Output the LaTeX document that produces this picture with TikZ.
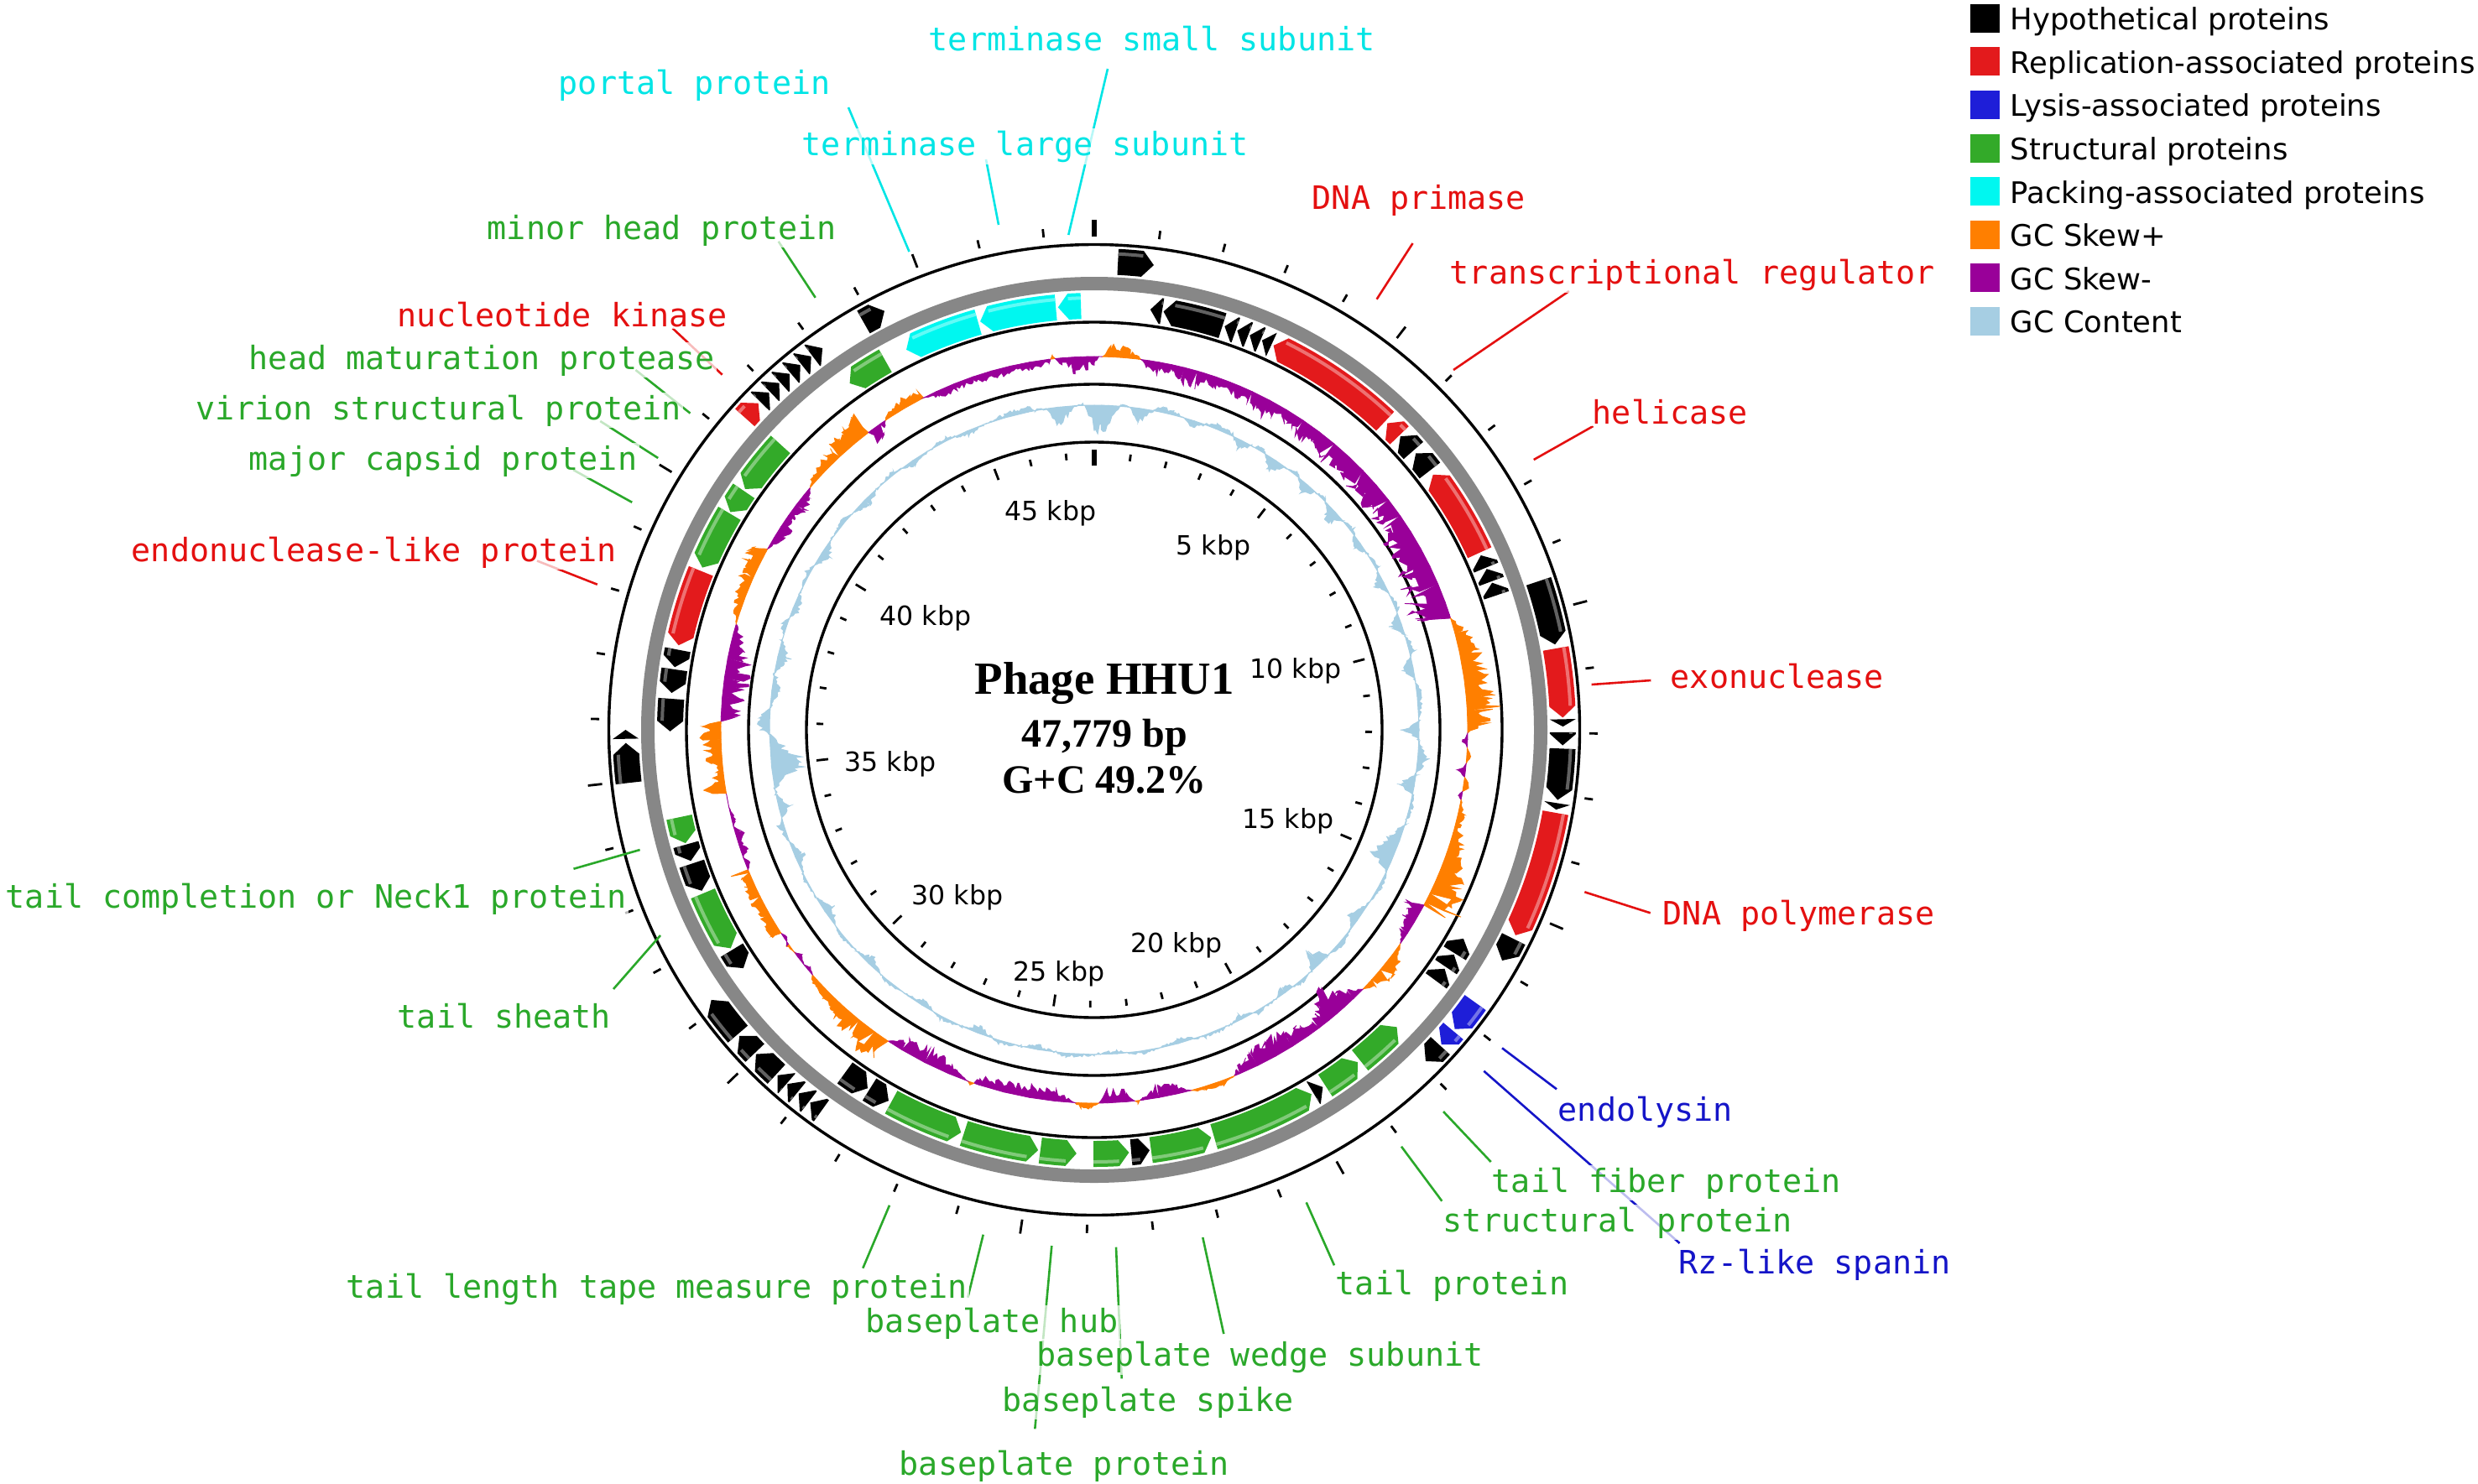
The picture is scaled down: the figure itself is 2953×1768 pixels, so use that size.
\documentclass[tikz,border=0pt]{standalone}
\usepackage{fontspec}
\setmainfont{DejaVu Sans}
\newfontfamily\monofont{DejaVu Sans Mono}
\newfontfamily\titlefont{Liberation Serif}
\definecolor{gRed}{HTML}{E31A1C}
\definecolor{gBlue}{HTML}{1E1ED8}
\definecolor{gGreen}{HTML}{33AA29}
\definecolor{gCyan}{HTML}{00F7F0}
\definecolor{skP}{HTML}{FF7F00}
\definecolor{skM}{HTML}{990099}
\definecolor{gcC}{HTML}{A6CEE3}
\definecolor{ringGray}{HTML}{878787}
\definecolor{tCyan}{HTML}{00E5E5}
\definecolor{tRed}{HTML}{E41010}
\definecolor{tGreen}{HTML}{2AA82A}
\definecolor{tBlue}{HTML}{1515C8}
% outer (clockwise) gene, tip at #2
\newcommand\og[3]{%
 \pgfmathsetmacro\gA{#1-90}%
 \pgfmathsetmacro\gB{#2-90}%
 \pgfmathsetmacro\gT{max(#1,#2-1.4)-90}%
 \pgfmathtruncatemacro\gTri{((#2)-(#1))<=1.45}%
 \ifnum\gTri=1
  \fill[#3] (\gA:543) -- (\gB:558.5) -- (\gA:574) -- cycle;
 \else
  \fill[#3] (\gA:543) arc[start angle=\gA,end angle=\gT,radius=543] -- (\gB:558.5) -- (\gT:574) arc[start angle=\gT,end angle=\gA,radius=574] -- cycle;
  \fill[#3!62!white] (\gA:566) arc[start angle=\gA,end angle=\gT,radius=566] -- (\gT:570) arc[start angle=\gT,end angle=\gA,radius=570] -- cycle;
 \fi}
% inner (counter-clockwise) gene, tip at #1
\newcommand\ig[3]{%
 \pgfmathsetmacro\gA{#1-90}%
 \pgfmathsetmacro\gB{#2-90}%
 \pgfmathsetmacro\gT{min(#2,#1+1.4)-90}%
 \pgfmathtruncatemacro\gTri{((#2)-(#1))<=1.45}%
 \ifnum\gTri=1
  \fill[#3] (\gB:490) -- (\gA:505.5) -- (\gB:521) -- cycle;
 \else
  \fill[#3] (\gB:490) arc[start angle=\gB,end angle=\gT,radius=490] -- (\gA:505.5) -- (\gT:521) arc[start angle=\gT,end angle=\gB,radius=521] -- cycle;
  \fill[#3!62!white] (\gB:513) arc[start angle=\gB,end angle=\gT,radius=513] -- (\gT:517) arc[start angle=\gT,end angle=\gB,radius=517] -- cycle;
 \fi}
\def\skewdata{0/-8, 0.7/0, 1.3/0, 2.5/14, 4/10, 5.5/9, 6.8/4, 7.2/0, 8.5/-8, 10/-12, 12/-6, 14/-14, 16/-20, 17/-10, 19/-12, 21/-8, 23/-14, 25/-10, 28/-16, 31/-12, 34/-18, 37/-14, 40/-20, 43/-16, 46/-22, 49/-18, 52/-24, 55/-20, 58/-26, 61/-28, 64/-32, 67/-30, 70/-34, 72/-28, 72.6/0, 75/12, 78/18, 82/20, 85/24, 87/28, 89/18, 90.5/0, 91.5/-6, 92.8/0, 94/5, 95.2/0, 96.3/-7, 97.3/0, 98.5/8, 99.5/0, 100.2/-4, 100.8/0, 103/7, 105/5, 106/8, 108/12, 110/15, 112/20, 114/26, 116/30, 117.5/35, 118/0, 118.6/-17, 121/-12, 123/-8, 125/0, 127/10, 130/15, 132/10, 134/0, 136/-12, 138/-22, 139.5/-28, 141/-18, 143/-10, 145/-14, 148/-18, 151/-20, 154/-16, 157/-8, 158/0, 160/5, 163/4, 165/0, 167/-8, 170/-12, 172.5/-3, 173/0, 173.3/3, 173.8/0, 175/-10, 178/-12, 179.3/0, 180.5/5, 182/6, 183/0, 186/-10, 190/-12, 194/-10, 198/-8, 198.8/0, 199.3/3, 199.8/0, 203/-10, 207/-15, 211/-12, 213.5/0, 214/22, 216/24, 219/18, 222/14, 225/10, 228/6, 229/0, 230/-4, 231/0, 232.5/-5, 233.5/0, 235/3, 236/-4, 237/0, 237.5/12, 240/10, 242/8, 243.5/14, 245/10, 247.5/16, 248/0, 249/-5, 250/0, 251/-7, 252.5/-4, 254/-8, 255/0, 256/-4, 258/0, 260.2/0, 260.8/22, 262/12, 263.5/8, 265/12, 267/18, 268.5/22, 270.5/18, 271.3/0, 272/-15, 275/-18, 278/-22, 281/-20, 283/-14, 285/-8, 286.5/0, 288/5, 291/10, 294/12, 296/14, 298.5/16, 299/0, 301/-8, 303/-12, 305/-6, 307/-14, 309/-8, 310.5/0, 311.5/5, 314/8, 317/13, 320/20, 322.5/22, 322.8/0, 323.5/-15, 325/-10, 326/0, 327/6, 329.5/10, 332.5/8, 332.8/0, 335/-6, 338/-8, 341/-5, 344/-9, 347/-6, 350/-8, 353/-4, 353.3/0, 353.6/3, 354/0, 355/-8, 357/-15, 359/-12, 360/-8}
\def\gcdata{0/-25, 1.3/-32, 2.5/-20, 4.6/0, 6/2, 8/-16, 10.5/0, 12/6, 14/4, 16/0, 18/-8, 20/0, 22/5, 25/2, 27/-10, 29/0, 31/4, 34/-14, 36/0, 38/5, 41/-12, 43/0, 45/3, 48/-15, 50/0, 52/4, 55/-8, 57/0, 60/3, 63/-10, 65/0, 68/4, 71/-12, 73/0, 76/6, 79/-14, 81/0, 84/5, 88.3/0, 90/-16, 91.7/0, 93/3, 95/10, 98/0, 100/-16, 101.5/0, 104/3, 107/0, 110/-14, 114/-22, 116/0, 119/4, 122/0, 126/-10, 128/0, 131/5, 134/0, 136/-20, 138/0, 141/4, 144/-8, 146/0, 150/3, 153/-6, 155/0, 160/3, 165/-5, 168/0, 172/3, 176/-4, 180/0, 185/3, 190/-5, 193/0, 197/4, 201/-8, 204/0, 208/4, 212/-6, 215/0, 220/3, 224/-8, 227/0, 231/4, 236/-10, 239/0, 243/3, 247/-10, 250/0, 253/6, 256/-12, 258.5/0, 259.7/0, 263.5/-40, 269.2/0, 270/8, 272/13, 274/0, 277/-10, 280/0, 283/-12, 286/0, 289/5, 292/-8, 295/0, 299/4, 303/-10, 306/0, 310/4, 315/-8, 318/0, 322/3, 326/-6, 329/0, 333/3, 337/-5, 340/0, 344/3, 348.3/7, 349.5/0, 351.4/0, 353.5/-22, 356.5/0, 358/3, 360/-25}
\tikzset{
 glab/.style={font=\monofont\fontsize{9.6pt}{11pt}\selectfont, anchor=base west, inner sep=0.6pt, xshift=-0.6pt, fill=white, fill opacity=0.72, text opacity=1},
 lline/.style={line width=0.65pt},
 kbp/.style={font=\fontsize{7.9pt}{9pt}\selectfont, anchor=center, inner sep=0pt},
 tickm/.style={line width=0.7pt},
 ring/.style={line width=0.85pt},
 legtxt/.style={font=\fontsize{8.85pt}{10pt}\selectfont, anchor=base west, inner sep=0pt},
 ttl/.style={font=\titlefont\bfseries\fontsize{12pt}{14pt}\selectfont, anchor=base, inner sep=0pt}
}
\begin{document}
\begin{tikzpicture}[x=0.25pt,y=-0.25pt]
\useasboundingbox[fill=white] (0,0) rectangle (2953,1768);
\begin{scope}[shift={(1304,870)}]
 % backbone rings
 \draw[ringGray, line width=4pt] (0,0) circle[radius=532];
 \draw[ring] (0,0) circle[radius=578.5];
 \draw[ring] (0,0) circle[radius=486];
 \draw[ring] (0,0) circle[radius=412];
 \draw[ring] (0,0) circle[radius=343];
 % outer genes (clockwise)
 \og{2.9}{7.3}{black}
 \og{71.5}{79.5}{black}
 \og{80}{88.5}{gRed}
 \og{88.7}{89.6}{black}
 \og{90.3}{91.9}{black}
 \og{92.3}{98.6}{black}
 \og{99}{99.8}{black}
 \og{100.2}{116}{gRed}
 \og{116.5}{119.5}{black}
 \og{125.6}{129.7}{gBlue}
 \og{130}{132.2}{gBlue}
 \og{132.4}{135}{black}
 \og{215.6}{217.3}{black}
 \og{217.5}{219.1}{black}
 \og{219.3}{220.9}{black}
 \og{221}{222.5}{black}
 \og{222.7}{226.2}{black}
 \og{226.4}{229.2}{black}
 \og{229.5}{234.8}{black}
 \og{263.5}{268.4}{black}
 \og{268.9}{270}{black}
 \og{311.8}{314.2}{gRed}
 \og{314.5}{316.05}{black}
 \og{316.2}{317.75}{black}
 \og{317.9}{319.45}{black}
 \og{319.6}{321.15}{black}
 \og{321.3}{322.85}{black}
 \og{323}{324.55}{black}
 \og{330.5}{333.4}{black}
 % inner genes (counter-clockwise)
 \ig{7.6}{9.2}{black}
 \ig{9.4}{17.6}{black}
 \ig{17.9}{19.5}{black}
 \ig{19.7}{21.3}{black}
 \ig{21.5}{23.1}{black}
 \ig{23.3}{24.7}{black}
 \ig{25}{43.3}{gRed}
 \ig{43.7}{46}{gRed}
 \ig{46.2}{48.8}{black}
 \ig{49.3}{52.3}{black}
 \ig{53}{65.3}{gRed}
 \ig{65.7}{67.5}{black}
 \ig{67.7}{69.5}{black}
 \ig{69.7}{71.5}{black}
 \ig{119.5}{121.8}{black}
 \ig{122}{124}{black}
 \ig{124.3}{126.3}{black}
 \ig{134.5}{141.2}{gGreen}
 \ig{141.6}{147}{gGreen}
 \ig{147.4}{148.9}{black}
 \ig{149.2}{163.6}{gGreen}
 \ig{164}{172.3}{gGreen}
 \ig{172.5}{175}{black}
 \ig{175.3}{180.1}{gGreen}
 \ig{182.4}{187.3}{gGreen}
 \ig{187.6}{197.9}{gGreen}
 \ig{198.3}{208.6}{gGreen}
 \ig{209}{212}{black}
 \ig{212.3}{216}{black}
 \ig{235.8}{238.7}{black}
 \ig{239}{247.3}{gGreen}
 \ig{247.7}{251.6}{black}
 \ig{252}{254.3}{black}
 \ig{254.5}{258.1}{gGreen}
 \ig{269.8}{274.2}{black}
 \ig{275}{278.2}{black}
 \ig{278.5}{280.9}{black}
 \ig{281.5}{292}{gRed}
 \ig{292.5}{300.7}{gGreen}
 \ig{300.9}{304.3}{gGreen}
 \ig{304.6}{312.3}{gGreen}
 \ig{324.8}{330.5}{gGreen}
 \ig{333.7}{344.1}{gCyan}
 \ig{344.4}{354.8}{gCyan}
 \ig{355.1}{358.2}{gCyan}
 % GC skew
 \pgfmathsetseed{11}
 \foreach \a/\v [remember=\a as \pa (initially 0), remember=\v as \pv (initially 0)] in \skewdata {
  \pgfmathtruncatemacro\n{max(1,round(((\a)-(\pa))/0.35))}
  \pgfmathtruncatemacro\pos{((\pv)+(\v))>0}
  \ifnum\pos=1 \def\col{skP}\else\def\col{skM}\fi
  \filldraw[fill=\col, draw=\col, line width=0.2pt] ({\pa-90}:445) \foreach \k in {0,...,\n} { -- ({\pa+((\a)-(\pa))*\k/\n-90}:{445+((\pv)+((\v)-(\pv))*\k/\n)*(0.5+rnd)}) } -- ({\a-90}:445) -- cycle;
 }
 % GC content
 \pgfmathsetseed{5}
 \foreach \a/\v [remember=\a as \pa (initially 0), remember=\v as \pv (initially 0)] in \gcdata {
  \pgfmathtruncatemacro\n{max(1,round(((\a)-(\pa))/0.35))}
  \filldraw[fill=gcC, draw=gcC, line width=0.25pt] ({\pa-90}:387) \foreach \k in {0,...,\n} { -- ({\pa+((\a)-(\pa))*\k/\n-90}:{387+((\pv)+((\v)-(\pv))*\k/\n)*(0.7+0.6*rnd)+3.6*rnd-1.8}) } -- ({\a-90}:387) -- cycle;
 }
 % ticks
 \foreach \k in {0,...,47}{
  \pgfmathsetmacro\tk{\k*7.534696-90}
  \pgfmathtruncatemacro\m{mod(\k,5)}
  \ifnum\k=0
   \draw[line width=1.3pt] (\tk:588) -- (\tk:608);
   \draw[line width=1.3pt] (\tk:315) -- (\tk:334);
  \else\ifnum\m=0
   \draw[tickm] (\tk:590) -- (\tk:607);
   \draw[tickm] (\tk:319) -- (\tk:333);
  \else
   \draw[tickm] (\tk:590) -- (\tk:600);
   \draw[tickm] (\tk:323) -- (\tk:331);
  \fi\fi}
\end{scope}
% scale labels
\node[kbp] (k5) at (1446,653) {5 kbp};
\node[kbp] (k10) at (1544,800) {10 kbp};
\node[kbp] (k15) at (1535,979) {15 kbp};
\node[kbp] (k20) at (1402,1127) {20 kbp};
\node[kbp] (k25) at (1262,1161) {25 kbp};
\node[kbp] (k30) at (1141,1070) {30 kbp};
\node[kbp] (k35) at (1061,911) {35 kbp};
\node[kbp] (k40) at (1103,737) {40 kbp};
\node[kbp] (k45) at (1252,612) {45 kbp};
% title
\node[ttl, font=\titlefont\bfseries\fontsize{13.7pt}{16pt}\selectfont] (t1) at (1316,827) {Phage HHU1};
\node[ttl] (t2) at (1316,890) {47,779 bp};
\node[ttl] (t3) at (1316,945) {G+C 49.2\%};
% label connectors
\foreach \n/\c/\ax/\ay/\bx/\by in {
 ts/tCyan/1273.3/280/1320/82, tl/tCyan/1190/268/1175/190, pp/tCyan/1083.5/300/1011/128,
 mh/tGreen/971.7/354.8/927.7/287.8, nk/tRed/860.7/446.7/801.4/391.2, hm/tGreen/822.5/492.6/757.4/441,
 vs/tGreen/784.2/546/715.3/502, mc/tGreen/753.2/598.8/683/560, en/tRed/711.8/696.7/640/668.5,
 pr/tRed/1640.6/356.7/1683.5/290, tr/tRed/1732/441/1869.8/347, he/tRed/1827.7/548/1898.5/508,
 ex/tRed/1896.6/816/1967.4/811, po/tRed/1888.3/1063.3/1966.7/1088.3, el/tBlue/1790/1249.3/1855/1298.3,
 rz/tBlue/1768.3/1276.7/2001.6/1482, tf/tGreen/1720/1325/1776.7/1385, st/tGreen/1670/1366.7/1718.3/1431.7,
 tp/tGreen/1556.7/1433.3/1590/1508.3, bw/tGreen/1433.3/1475/1458.3/1590, bh/tGreen/1171.7/1471.7/1153.3/1546.7,
 bs/tGreen/1330/1486.7/1336.7/1643.3, bp/tGreen/1253.3/1485/1233.3/1703.3, tm/tGreen/1060/1436.7/1028.3/1511.7,
 sh/tGreen/787/1115/731/1179, tc/tGreen/762.6/1013/683.5/1035.7}{
 \coordinate (\n-a) at (\ax,\ay);
 \coordinate (\n-b) at (\bx,\by);
 \draw[lline, \c] (\n-a) -- (\n-b);
}
% gene labels
\node[glab, text=tCyan] (ts) at (1106,60) {terminase small subunit};
\node[glab, text=tCyan] (pp) at (665,112) {portal protein};
\node[glab, text=tCyan] (tl) at (955,185) {terminase large subunit};
\node[glab, text=tGreen] (mh) at (580,285) {minor head protein};
\node[glab, text=tRed] (nk) at (473,389) {nucleotide kinase};
\node[glab, text=tGreen] (hm) at (296,440) {head maturation protease};
\node[glab, text=tGreen] (vs) at (233,500) {virion structural protein};
\node[glab, text=tGreen] (mc) at (296,560) {major capsid protein};
\node[glab, text=tRed] (en) at (156,669) {endonuclease-like protein};
\node[glab, text=tRed] (pr) at (1563,249) {DNA primase};
\node[glab, text=tRed] (tr) at (1727,338) {transcriptional regulator};
\node[glab, text=tRed] (he) at (1897,505) {helicase};
\node[glab, text=tRed] (ex) at (1990,820) {exonuclease};
\node[glab, text=tRed] (po) at (1981,1102) {DNA polymerase};
\node[glab, text=tBlue] (el) at (1856,1336) {endolysin};
\node[glab, text=tBlue] (rz) at (2000,1518) {Rz-like spanin};
\node[glab, text=tGreen] (tf) at (1777,1421) {tail fiber protein};
\node[glab, text=tGreen] (st) at (1719,1468) {structural protein};
\node[glab, text=tGreen] (tp) at (1591,1543) {tail protein};
\node[glab, text=tGreen] (bw) at (1235,1628) {baseplate wedge subunit};
\node[glab, text=tGreen] (bh) at (1031,1588) {baseplate hub};
\node[glab, text=tGreen] (bs) at (1194,1682) {baseplate spike};
\node[glab, text=tGreen] (bp) at (1071,1758) {baseplate protein};
\node[glab, text=tGreen] (tm) at (412,1547) {tail length tape measure protein};
\node[glab, text=tGreen] (sh) at (473,1225) {tail sheath};
\node[glab, text=tGreen] (tc) at (6,1082) {tail completion or Neck1 protein};
% legend
\foreach \i/\c/\t in {0/black/Hypothetical proteins, 1/gRed/Replication-associated proteins, 2/gBlue/Lysis-associated proteins, 3/gGreen/Structural proteins, 4/gCyan/Packing-associated proteins, 5/skP/GC Skew+, 6/skM/GC Skew-, 7/gcC/GC Content}{
 \fill[\c] (2348,{4.7+51.6*\i}) rectangle (2383,{38.7+51.6*\i});
 \node[legtxt] (leg\i) at (2395,{35.7+51.6*\i}) {\t};
}
\end{tikzpicture}
\end{document}
